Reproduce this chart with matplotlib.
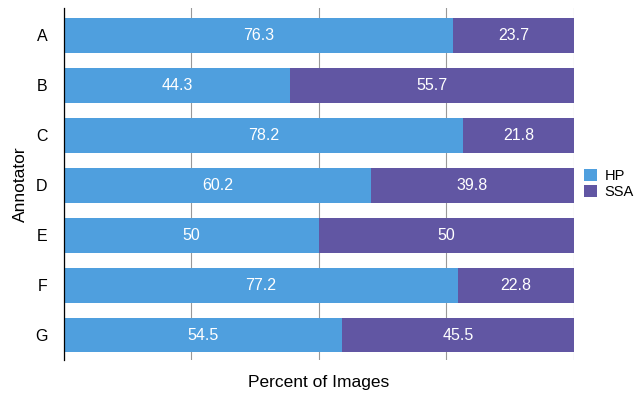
import matplotlib
matplotlib.use("Agg")
import matplotlib.pyplot as plt
import numpy as np

annotators = ["A", "B", "C", "D", "E", "F", "G"]
hp = [76.3, 44.3, 78.2, 60.2, 50, 77.2, 54.5]
ssa = [23.7, 55.7, 21.8, 39.8, 50, 22.8, 45.5]

plt.rcParams["font.family"] = ["Liberation Sans", "DejaVu Sans"]

blue = "#4F9FDE"
purple = "#6156A3"

fig = plt.figure(figsize=(6.37, 3.93), dpi=100)
ax = fig.add_axes([0.1005, 0.084, 0.8005, 0.896])

y = np.arange(len(annotators))
ax.barh(y, hp, height=0.7, color=blue, label="HP", zorder=3)
ax.barh(y, ssa, left=hp, height=0.7, color=purple, label="SSA", zorder=3)

for i in range(len(annotators)):
    ax.text(hp[i] / 2, y[i], f"{hp[i]:g}", color="white", ha="center", va="center",
            fontsize=11.5, zorder=4)
    ax.text(hp[i] + ssa[i] / 2, y[i], f"{ssa[i]:g}", color="white", ha="center",
            va="center", fontsize=11.5, zorder=4)

ax.set_xlim(0, 100)
ax.set_ylim(6.5, -0.55)
ax.set_yticks(y)
ax.set_yticklabels(annotators, fontsize=11.5)
ax.set_xticks([0, 25, 50, 75, 100])
ax.set_xticklabels([])
ax.tick_params(axis="y", length=0, pad=12)
ax.tick_params(axis="x", length=0)
ax.grid(axis="x", color="#999999", linewidth=0.8, zorder=0)
for s in ["top", "right", "bottom"]:
    ax.spines[s].set_visible(False)
ax.spines["left"].set_color("black")
ax.spines["left"].set_linewidth(0.9)
ax.spines["left"].set_zorder(5)

ax.set_xlabel("Percent of Images", fontsize=12.5, labelpad=7)
ax.set_ylabel("Annotator", fontsize=12.5, labelpad=5)

ax.legend(loc="center left", bbox_to_anchor=(1.0, 0.5), frameon=False, fontsize=10.5,
          handlelength=0.9, handleheight=0.9, handletextpad=0.5, borderaxespad=0.5,
          borderpad=0.2, labelspacing=0.15)

fig.savefig("out.png", dpi=100)
